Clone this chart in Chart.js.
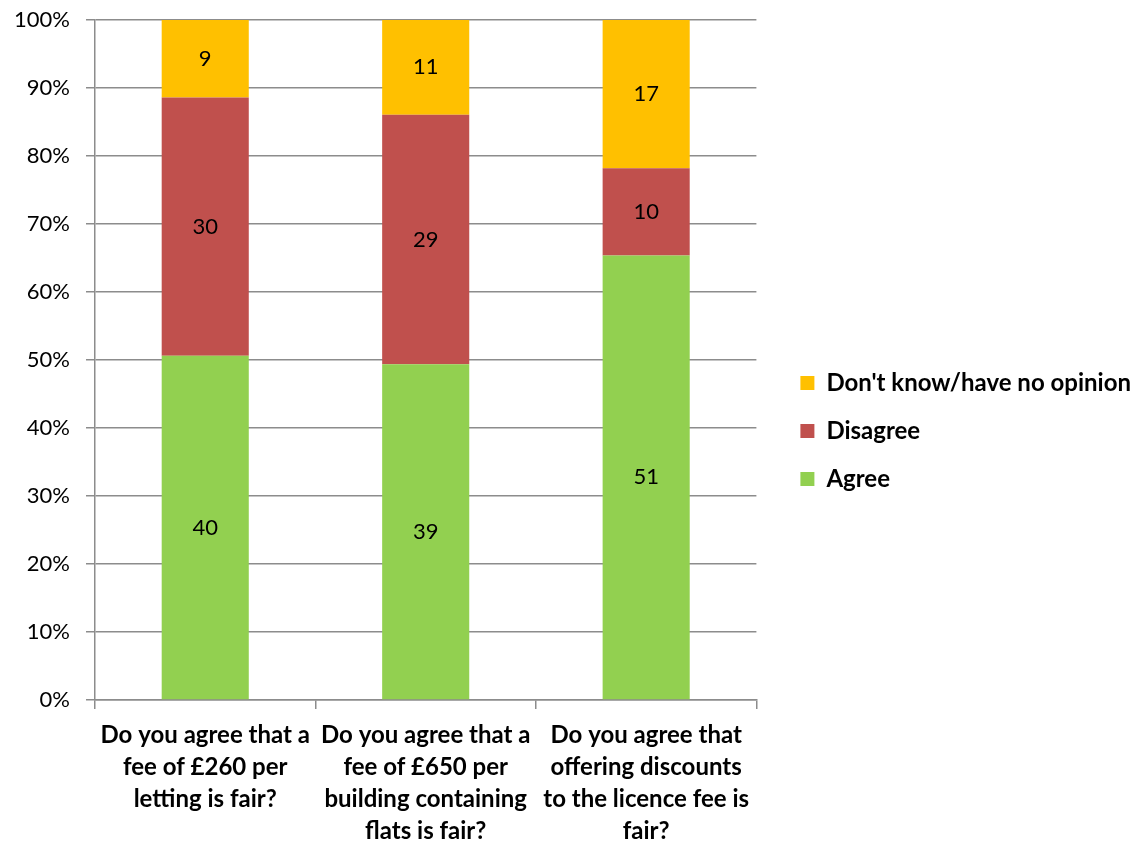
<!DOCTYPE html>
<html lang="en">
<head>
    <meta charset="UTF-8">
    <title>Licence fee survey</title>
    <script src="https://cdn.jsdelivr.net/npm/chart.js"></script>
    <style>
        body { margin: 0; background: #fff; }
    </style>
</head>
<body>
    <canvas id="chart" width="1145" height="842"></canvas>
    <script>
        // questions (split into lines the way the original wraps them)
        const questions = [
            ['Do you agree that a', 'fee of £260 per', 'letting is fair?'],
            ['Do you agree that a', 'fee of £650 per', 'building containing', 'flats is fair?'],
            ['Do you agree that', 'offering discounts', 'to the licence fee is', 'fair?']
        ];

        // response counts
        const agree = [40, 39, 51];
        const disagree = [30, 29, 10];
        const dontKnow = [9, 11, 17];

        const yTicks = [0, 10, 20, 30, 40, 50, 60, 70, 80, 90, 100];

        const totals = agree.map((v, i) => v + disagree[i] + dontKnow[i]);
        const pct = arr => arr.map((v, i) => v / totals[i] * 100);

        const FONT = 'Lato, "Open Sans", sans-serif';
        const GRID = '#8c8c8c';

        // draw the counts inside each segment
        const countLabels = {
            id: 'countLabels',
            afterDatasetsDraw(chart) {
                const ctx = chart.ctx;
                ctx.save();
                ctx.font = '22px ' + FONT;
                ctx.fillStyle = '#000';
                ctx.textAlign = 'center';
                ctx.textBaseline = 'middle';
                chart.data.datasets.forEach((ds, di) => {
                    const meta = chart.getDatasetMeta(di);
                    meta.data.forEach((bar, i) => {
                        ctx.fillText(ds.counts[i], bar.x, (bar.y + bar.base) / 2);
                    });
                });
                ctx.restore();
            }
        };

        new Chart(document.getElementById('chart'), {
            type: 'bar',
            data: {
                labels: questions,
                datasets: [
                    { label: 'Agree', data: pct(agree), counts: agree, backgroundColor: '#92D050' },
                    { label: 'Disagree', data: pct(disagree), counts: disagree, backgroundColor: '#C0504D' },
                    { label: "Don't know/have no opinion", data: pct(dontKnow), counts: dontKnow, backgroundColor: '#FFC000' }
                ]
            },
            options: {
                responsive: false,
                animation: false,
                barPercentage: 0.395,
                categoryPercentage: 1,
                layout: { padding: { top: 20, right: 4, left: 0, bottom: 0 } },
                plugins: {
                    tooltip: { enabled: false },
                    legend: {
                        position: 'right',
                        reverse: true,
                        maxWidth: 420,
                        labels: {
                            font: { family: FONT, size: 24, weight: 'bold' },
                            color: '#000',
                            boxWidth: 14,
                            boxHeight: 14,
                            padding: 24
                        }
                    }
                },
                scales: {
                    x: {
                        stacked: true,
                        offset: true,
                        afterFit: s => { s.height = 142; },
                        border: { color: GRID, width: 1.5 },
                        grid: { offset: true, drawOnChartArea: false, drawTicks: true, tickLength: 9, color: GRID, lineWidth: 1.5 },
                        ticks: {
                            autoSkip: false,
                            maxRotation: 0,
                            minRotation: 0,
                            padding: 10,
                            color: '#000',
                            font: { family: FONT, size: 24, weight: 'bold', lineHeight: 1.333 }
                        }
                    },
                    y: {
                        stacked: true,
                        min: 0,
                        max: 100,
                        afterBuildTicks: axis => { axis.ticks = yTicks.map(v => ({ value: v })); },
                        afterFit: s => { s.width = 95; s.paddingTop = 0; s.paddingBottom = 0; },
                        border: { color: GRID, width: 1.5 },
                        grid: { color: GRID, lineWidth: 1.5, tickLength: 9 },
                        ticks: {
                            padding: 16,
                            color: '#000',
                            font: { family: FONT, size: 22 },
                            callback: v => v + '%'
                        }
                    },
                    // empty spacer between plot and legend
                    gap: {
                        position: 'right',
                        display: true,
                        afterFit: s => { s.width = 20; },
                        border: { display: false },
                        grid: { display: false },
                        ticks: { display: false }
                    }
                }
            },
            plugins: [countLabels]
        });
    </script>
</body>
</html>
